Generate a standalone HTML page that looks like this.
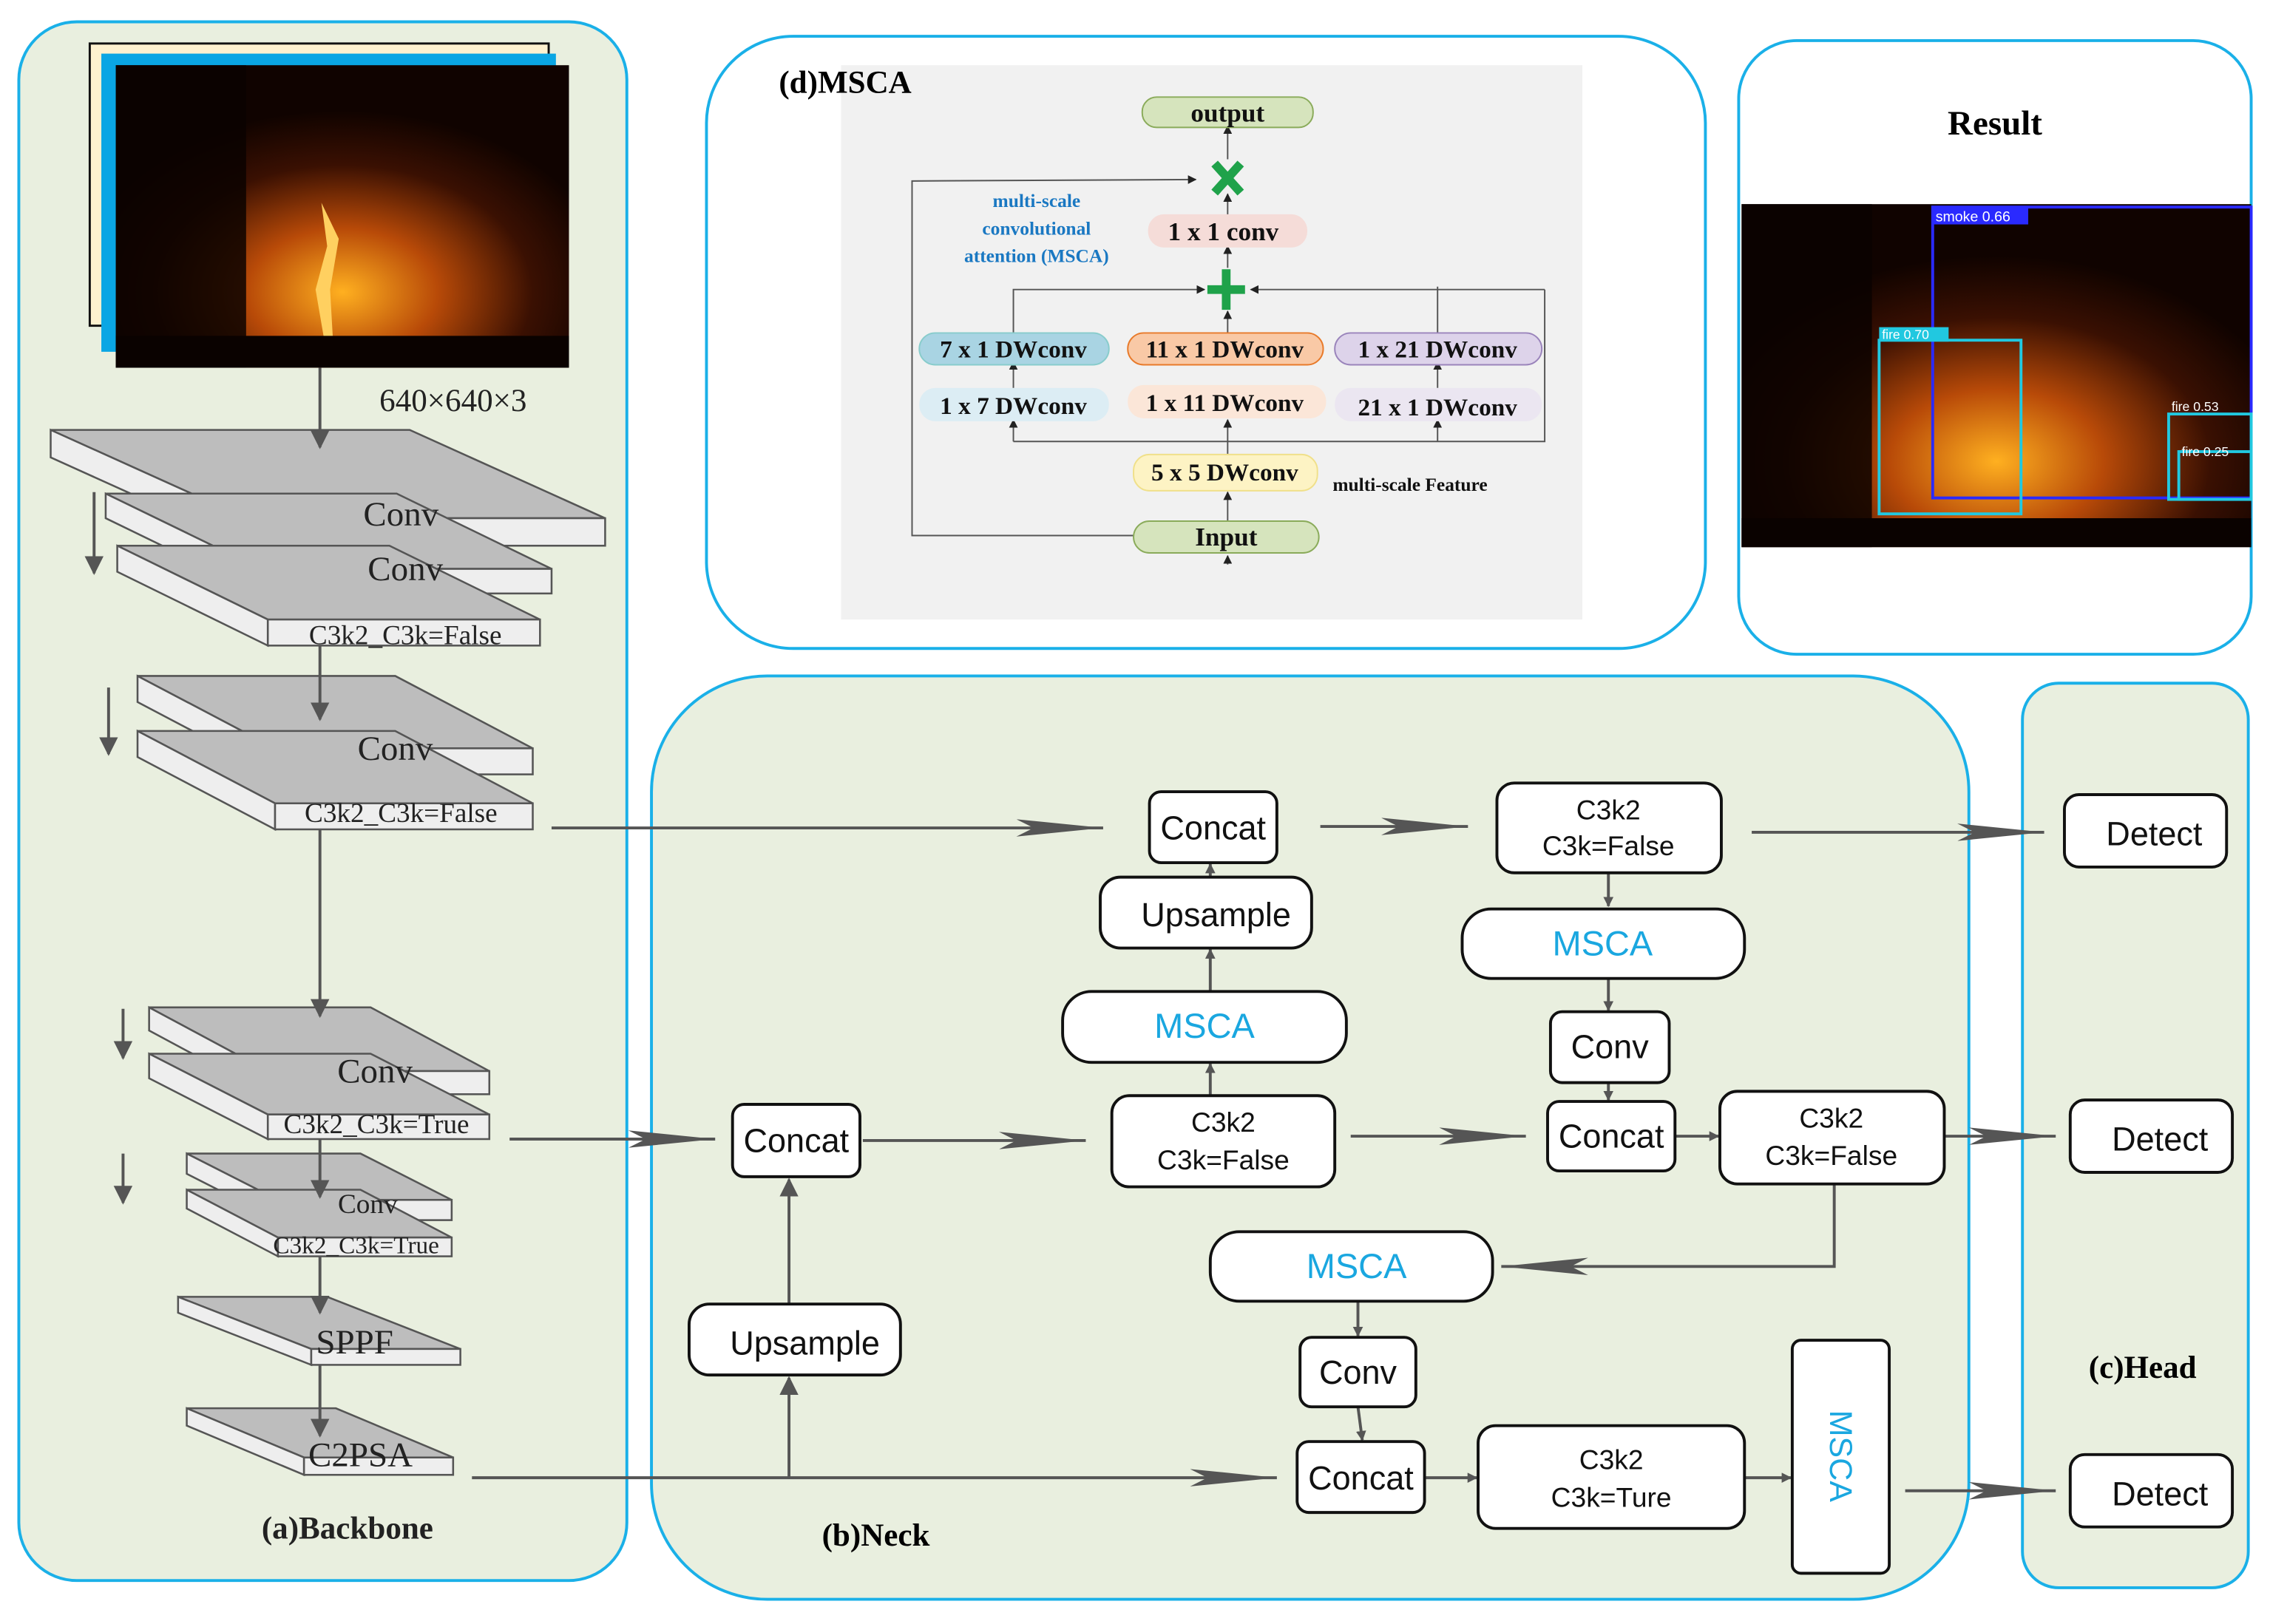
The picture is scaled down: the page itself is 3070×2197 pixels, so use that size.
<!DOCTYPE html>
<html><head><meta charset="utf-8"><style>html,body{margin:0;padding:0;background:#fff}svg{display:block}</style></head>
<body>
<svg width="3070" height="2197" viewBox="0 0 1568 1122" xmlns="http://www.w3.org/2000/svg" font-family="Liberation Serif, serif">
<defs>
<marker id="a" viewBox="0 0 10 10" refX="9" refY="5" markerWidth="7" markerHeight="7" orient="auto" markerUnits="userSpaceOnUse"><path d="M0,0L10,5L0,10z" fill="#555"/></marker>
<marker id="b" viewBox="0 0 60 12" refX="60" refY="6" markerWidth="60" markerHeight="12" orient="auto" markerUnits="userSpaceOnUse"><path d="M0,0L60,6L0,12L12,6z" fill="#555"/></marker>
<marker id="c" viewBox="0 0 10 10" refX="9" refY="5" markerWidth="13" markerHeight="13" orient="auto" markerUnits="userSpaceOnUse"><path d="M0,0L10,5L0,10z" fill="#555"/></marker>
<marker id="s" viewBox="0 0 10 10" refX="9" refY="5" markerWidth="6" markerHeight="6" orient="auto" markerUnits="userSpaceOnUse"><path d="M0,0L10,5L0,10z" fill="#222"/></marker>
<radialGradient id="fire" cx="0.5" cy="0.75" r="0.6"><stop offset="0" stop-color="#ffb020"/><stop offset="0.35" stop-color="#b84a08"/><stop offset="0.7" stop-color="#3a1002"/><stop offset="1" stop-color="#100300"/></radialGradient>
</defs>

<!-- Backbone panel -->
<rect x="13" y="15" width="420" height="1077" rx="40" fill="#e9efdf" stroke="#1ab0e8" stroke-width="2"/>
<rect x="62" y="30" width="317" height="195" fill="#fdf1cf" stroke="#111" stroke-width="1.5"/>
<rect x="70" y="37" width="314" height="206" fill="#0aa6e4"/>
<rect x="80" y="45" width="313" height="209" fill="url(#fire)"/>
<rect x="80" y="45" width="90" height="209" fill="#0b0200" opacity="0.85"/>
<path d="M222,140 L226,170 L218,200 L224,235 L230,235 L228,200 L234,165z" fill="#ffd060"/>
<rect x="80" y="232" width="313" height="22" fill="#0a0200"/>
<text x="313" y="284" font-size="22" text-anchor="middle" fill="#222">640×640×3</text>

<g stroke="#555" stroke-width="1.3">
<!-- slab helper drawn manually -->
<g fill="#bdbdbd"><polygon points="35,297 283,297 418,358 170,358"/></g>
<polygon points="35,297 170,358 170,377 35,316" fill="#eee"/><rect x="170" y="358" width="248" height="19" fill="#eee"/>
<polygon points="73,341 274,341 381,393 180,393" fill="#bdbdbd"/>
<polygon points="73,341 180,393 180,410 73,358" fill="#eee"/><rect x="180" y="393" width="201" height="17" fill="#eee"/>
<polygon points="81,377 269,377 373,428 185,428" fill="#bdbdbd"/>
<polygon points="81,377 185,428 185,446 81,395" fill="#eee"/><rect x="185" y="428" width="188" height="18" fill="#eee"/>
<polygon points="95,467 273,467 368,517 190,517" fill="#bdbdbd"/>
<polygon points="95,467 190,517 190,535 95,485" fill="#eee"/><rect x="190" y="517" width="178" height="18" fill="#eee"/>
<polygon points="95,505 273,505 368,555 190,555" fill="#bdbdbd"/>
<polygon points="95,505 190,555 190,573 95,523" fill="#eee"/><rect x="190" y="555" width="178" height="18" fill="#eee"/>
<polygon points="103,696 256,696 338,740 185,740" fill="#bdbdbd"/>
<polygon points="103,696 185,740 185,756 103,712" fill="#eee"/><rect x="185" y="740" width="153" height="16" fill="#eee"/>
<polygon points="103,728 256,728 338,770 185,770" fill="#bdbdbd"/>
<polygon points="103,728 185,770 185,787 103,745" fill="#eee"/><rect x="185" y="770" width="153" height="17" fill="#eee"/>
<polygon points="129,797 249,797 312,829 192,829" fill="#bdbdbd"/>
<polygon points="129,797 192,829 192,843 129,811" fill="#eee"/><rect x="192" y="829" width="120" height="14" fill="#eee"/>
<polygon points="129,822 249,822 312,855 192,855" fill="#bdbdbd"/>
<polygon points="129,822 192,855 192,868 129,835" fill="#eee"/><rect x="192" y="855" width="120" height="13" fill="#eee"/>
<polygon points="123,896 226,896 318,932 215,932" fill="#bdbdbd"/>
<polygon points="123,896 215,932 215,943 123,907" fill="#eee"/><rect x="215" y="932" width="103" height="11" fill="#eee"/>
<polygon points="129,973 232,973 313,1007 210,1007" fill="#bdbdbd"/>
<polygon points="129,973 210,1007 210,1019 129,985" fill="#eee"/><rect x="210" y="1007" width="103" height="12" fill="#eee"/>
</g>
<g fill="#222" text-anchor="middle">
<text x="277" y="363" font-size="24">Conv</text>
<text x="280" y="401" font-size="24">Conv</text>
<text x="280" y="445" font-size="19">C3k2_C3k=False</text>
<text x="273" y="525" font-size="24">Conv</text>
<text x="277" y="568" font-size="19">C3k2_C3k=False</text>
<text x="259" y="748" font-size="24">Conv</text>
<text x="260" y="783" font-size="19">C3k2_C3k=True</text>
<text x="254" y="838" font-size="19">Conv</text>
<text x="246" y="866" font-size="17">C3k2_C3k=True</text>
<text x="245" y="935" font-size="24">SPPF</text>
<text x="249" y="1013" font-size="24">C2PSA</text>
<text x="240" y="1063" font-size="22" font-weight="bold">(a)Backbone</text>
</g>
<g stroke="#555" stroke-width="2" fill="none" marker-end="url(#c)">
<line x1="221" y1="254" x2="221" y2="309"/><line x1="221" y1="446" x2="221" y2="497"/>
<line x1="221" y1="573" x2="221" y2="702"/><line x1="221" y1="787" x2="221" y2="827"/>
<line x1="221" y1="868" x2="221" y2="907"/><line x1="221" y1="943" x2="221" y2="992"/>
<line x1="65" y1="340" x2="65" y2="396"/><line x1="75" y1="475" x2="75" y2="521"/>
<line x1="85" y1="697" x2="85" y2="731"/><line x1="85" y1="797" x2="85" y2="831"/>
</g>

<!-- MSCA panel -->
<rect x="488" y="25" width="690" height="423" rx="60" fill="#fff" stroke="#1ab0e8" stroke-width="2"/>
<rect x="581" y="45" width="512" height="383" fill="#f1f1f1"/>
<text x="538" y="64" font-size="22" font-weight="bold">(d)MSCA</text>
<g stroke="#555" stroke-width="1" fill="none">
<polyline points="783,370 630,370 630,125 826,124" marker-end="url(#s)"/>
<polyline points="700,230 700,200 832,200" marker-end="url(#s)"/>
<polyline points="1067,200 864,200" marker-end="url(#s)"/>
<line x1="993" y1="230" x2="993" y2="198"/>
<polyline points="700,305 1067,305 1067,200"/>
<line x1="848" y1="390" x2="848" y2="384" marker-end="url(#s)"/>
<line x1="848" y1="360" x2="848" y2="340" marker-end="url(#s)"/>
<line x1="848" y1="315" x2="848" y2="290" marker-end="url(#s)"/>
<line x1="848" y1="232" x2="848" y2="215" marker-end="url(#s)"/>
<line x1="848" y1="185" x2="848" y2="170" marker-end="url(#s)"/>
<line x1="848" y1="150" x2="848" y2="134" marker-end="url(#s)"/>
<line x1="848" y1="110" x2="848" y2="87" marker-end="url(#s)"/>
<line x1="700" y1="305" x2="700" y2="290" marker-end="url(#s)"/>
<line x1="700" y1="268" x2="700" y2="250" marker-end="url(#s)"/>
<line x1="993" y1="305" x2="993" y2="290" marker-end="url(#s)"/>
<line x1="993" y1="268" x2="993" y2="250" marker-end="url(#s)"/>
</g>
<g font-weight="bold" text-anchor="middle" fill="#111">
<rect x="789" y="67" width="118" height="21" rx="10" fill="#d6e4bd" stroke="#8aab5a"/><text x="848" y="84" font-size="18">output</text>
<rect x="793" y="148" width="110" height="23" rx="11" fill="#f5dcd8"/><text x="845" y="166" font-size="18">1 x 1 conv</text>
<rect x="635" y="230" width="131" height="22" rx="11" fill="#a9d4e3" stroke="#8cc"/><text x="700" y="247" font-size="17">7 x 1 DWconv</text>
<rect x="779" y="230" width="135" height="22" rx="11" fill="#f9c9a6" stroke="#e87a2a"/><text x="846" y="247" font-size="17">11 x 1 DWconv</text>
<rect x="922" y="230" width="143" height="22" rx="11" fill="#ddd3ea" stroke="#9a84bb"/><text x="993" y="247" font-size="17">1 x 21 DWconv</text>
<rect x="635" y="268" width="131" height="23" rx="11" fill="#dcedf4"/><text x="700" y="286" font-size="17">1 x 7 DWconv</text>
<rect x="779" y="266" width="137" height="23" rx="11" fill="#fbe6d8"/><text x="846" y="284" font-size="17">1 x 11 DWconv</text>
<rect x="922" y="268" width="143" height="23" rx="11" fill="#ebe6f1"/><text x="993" y="287" font-size="17">21 x 1 DWconv</text>
<rect x="783" y="314" width="127" height="25" rx="11" fill="#fdf3c4" stroke="#f0e08a"/><text x="846" y="332" font-size="17">5 x 5 DWconv</text>
<rect x="783" y="360" width="128" height="22" rx="11" fill="#d6e4bd" stroke="#8aab5a"/><text x="847" y="377" font-size="18">Input</text>
<text x="974" y="339" font-size="13">multi-scale Feature</text>
<text x="716" y="143" font-size="13" fill="#1a78c2">multi-scale</text>
<text x="716" y="162" font-size="13" fill="#1a78c2">convolutional</text>
<text x="716" y="181" font-size="13" fill="#1a78c2">attention (MSCA)</text>
</g>
<g stroke="#1fa24a" stroke-width="6"><line x1="839" y1="113" x2="857" y2="133"/><line x1="857" y1="113" x2="839" y2="133"/><line x1="847" y1="186" x2="847" y2="214"/><line x1="834" y1="200" x2="860" y2="200"/></g>

<!-- Result panel -->
<rect x="1201" y="28" width="354" height="424" rx="40" fill="#fff" stroke="#1ab0e8" stroke-width="2"/>
<text x="1378" y="93" font-size="24" font-weight="bold" text-anchor="middle">Result</text>
<rect x="1203" y="141" width="352" height="237" fill="url(#fire)"/>
<rect x="1203" y="141" width="90" height="237" fill="#0b0200" opacity="0.85"/>
<rect x="1203" y="358" width="352" height="20" fill="#0a0200"/>
<g fill="none" stroke-width="2">
<rect x="1335" y="143" width="220" height="201" stroke="#2a2aff"/>
<rect x="1298" y="235" width="98" height="120" stroke="#21c8e0"/>
<rect x="1498" y="286" width="57" height="59" stroke="#21c8e0"/>
<rect x="1505" y="312" width="50" height="33" stroke="#21c8e0"/>
</g>
<rect x="1335" y="143" width="66" height="12" fill="#2a2aff"/><text x="1337" y="153" font-size="10" fill="#fff" font-family="Liberation Sans,sans-serif">smoke 0.66</text>
<rect x="1298" y="226" width="48" height="10" fill="#21c8e0"/><text x="1300" y="234" font-size="9" fill="#fff" font-family="Liberation Sans,sans-serif">fire 0.70</text>
<text x="1500" y="284" font-size="9" fill="#fff" font-family="Liberation Sans,sans-serif">fire 0.53</text>
<text x="1507" y="315" font-size="9" fill="#fff" font-family="Liberation Sans,sans-serif">fire 0.25</text>

<!-- Neck panel -->
<rect x="450" y="467" width="910" height="638" rx="80" fill="#e9efdf" stroke="#1ab0e8" stroke-width="2"/>
<!-- Head panel -->
<rect x="1397" y="472" width="156" height="625" rx="25" fill="#e9efdf" stroke="#1ab0e8" stroke-width="2"/>
<text x="1480" y="952" font-size="22" font-weight="bold" text-anchor="middle">(c)Head</text>
<text x="605" y="1068" font-size="22" font-weight="bold" text-anchor="middle">(b)Neck</text>

<g stroke="#555" stroke-width="2" fill="none">
<line x1="381" y1="572" x2="762" y2="572" marker-end="url(#b)"/>
<line x1="912" y1="571" x2="1014" y2="571" marker-end="url(#b)"/>
<line x1="1210" y1="575" x2="1412" y2="575" marker-end="url(#b)"/>
<line x1="352" y1="787" x2="494" y2="787" marker-end="url(#b)"/>
<line x1="596" y1="788" x2="750" y2="788" marker-end="url(#b)"/>
<line x1="933" y1="785" x2="1054" y2="785" marker-end="url(#b)"/>
<line x1="1343" y1="785" x2="1420" y2="785" marker-end="url(#b)"/>
<polyline points="1267,818 1267,875 1037,875" marker-end="url(#b)"/>
<line x1="326" y1="1021" x2="882" y2="1021" marker-end="url(#b)"/>
<line x1="1316" y1="1030" x2="1420" y2="1030" marker-end="url(#b)"/>
<line x1="1111" y1="603" x2="1111" y2="626" marker-end="url(#a)"/>
<line x1="1111" y1="676" x2="1111" y2="698" marker-end="url(#a)"/>
<line x1="1111" y1="748" x2="1111" y2="760" marker-end="url(#a)"/>
<line x1="1157" y1="785" x2="1187" y2="785" marker-end="url(#a)"/>
<line x1="836" y1="606" x2="836" y2="597" marker-end="url(#a)"/>
<line x1="836" y1="685" x2="836" y2="656" marker-end="url(#a)"/>
<line x1="836" y1="757" x2="836" y2="735" marker-end="url(#a)"/>
<line x1="938" y1="899" x2="938" y2="923" marker-end="url(#a)"/>
<line x1="938" y1="972" x2="941" y2="995" marker-end="url(#a)"/>
<line x1="545" y1="1021" x2="545" y2="952" marker-end="url(#c)"/>
<line x1="545" y1="901" x2="545" y2="815" marker-end="url(#c)"/>
<line x1="985" y1="1021" x2="1020" y2="1021" marker-end="url(#a)"/>
<line x1="1205" y1="1021" x2="1237" y2="1021" marker-end="url(#a)"/>
</g>

<g fill="#fff" stroke="#111" stroke-width="2">
<rect x="794" y="547" width="88" height="49" rx="8"/>
<rect x="1034" y="541" width="155" height="62" rx="12"/>
<rect x="760" y="606" width="146" height="49" rx="14"/>
<rect x="1010" y="628" width="195" height="48" rx="20"/>
<rect x="734" y="685" width="196" height="49" rx="20"/>
<rect x="1071" y="699" width="82" height="49" rx="8"/>
<rect x="506" y="763" width="88" height="50" rx="8"/>
<rect x="768" y="757" width="154" height="63" rx="12"/>
<rect x="1069" y="761" width="88" height="48" rx="8"/>
<rect x="1188" y="754" width="155" height="64" rx="12"/>
<rect x="836" y="851" width="195" height="48" rx="20"/>
<rect x="476" y="901" width="146" height="49" rx="14"/>
<rect x="898" y="924" width="80" height="48" rx="8"/>
<rect x="896" y="996" width="88" height="49" rx="8"/>
<rect x="1021" y="985" width="184" height="71" rx="12"/>
<rect x="1238" y="926" width="67" height="161" rx="6"/>
<rect x="1426" y="549" width="112" height="50" rx="10"/>
<rect x="1430" y="760" width="112" height="50" rx="10"/>
<rect x="1430" y="1005" width="112" height="50" rx="10"/>
</g>
<g font-family="Liberation Sans, sans-serif" text-anchor="middle" fill="#111">
<text x="838" y="580" font-size="23">Concat</text>
<text x="1111" y="566" font-size="19">C3k2</text><text x="1111" y="591" font-size="19">C3k=False</text>
<text x="840" y="640" font-size="23">Upsample</text>
<text x="1107" y="660" font-size="24" fill="#1aa7e0">MSCA</text>
<text x="832" y="717" font-size="24" fill="#1aa7e0">MSCA</text>
<text x="1112" y="731" font-size="23">Conv</text>
<text x="550" y="796" font-size="23">Concat</text>
<text x="845" y="782" font-size="19">C3k2</text><text x="845" y="808" font-size="19">C3k=False</text>
<text x="1113" y="793" font-size="23">Concat</text>
<text x="1265" y="779" font-size="19">C3k2</text><text x="1265" y="805" font-size="19">C3k=False</text>
<text x="937" y="883" font-size="24" fill="#1aa7e0">MSCA</text>
<text x="556" y="936" font-size="23">Upsample</text>
<text x="938" y="956" font-size="23">Conv</text>
<text x="940" y="1029" font-size="23">Concat</text>
<text x="1113" y="1015" font-size="19">C3k2</text><text x="1113" y="1041" font-size="19">C3k=Ture</text>
<text transform="translate(1264,1006) rotate(90)" font-size="22" fill="#1aa7e0">MSCA</text>
<text x="1488" y="584" font-size="23">Detect</text>
<text x="1492" y="795" font-size="23">Detect</text>
<text x="1492" y="1040" font-size="23">Detect</text>
</g>
</svg>
</body></html>
